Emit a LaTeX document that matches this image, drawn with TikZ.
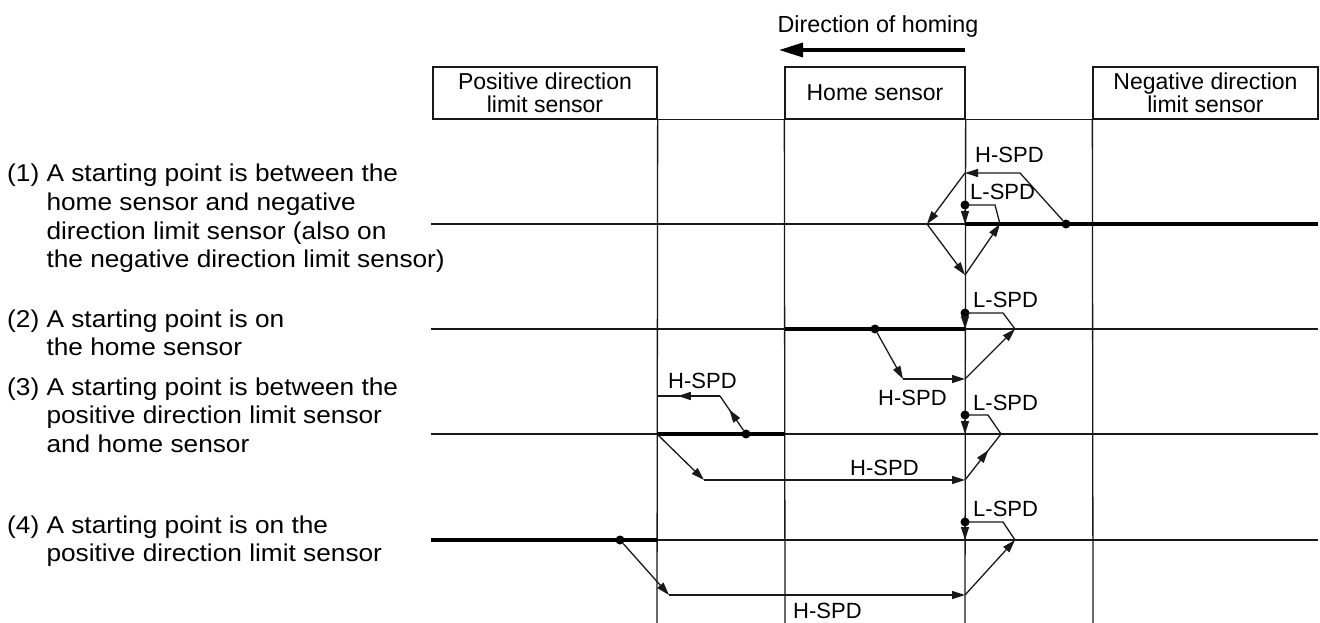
\documentclass[tikz,border=0pt]{standalone}
\usepackage{fontspec}
\setmainfont{Liberation Sans}
\newfontfamily\wideface[FakeStretch=1.08]{Liberation Sans}
\usetikzlibrary{arrows.meta,decorations.markings}
\tikzset{
  ln/.style={line width=1.3pt, draw=black!90},
  thk/.style={line width=4pt, draw=black},
  tip/.style={-{Triangle[length=13pt,width=8pt]}},
  midtip/.style={postaction={decorate}, decoration={markings, mark=at position #1 with {\arrow{Triangle[length=13pt,width=8pt]}}}},
  midtip/.default=0.5,
  dot/.style={circle, fill=black, inner sep=0pt, minimum size=9pt},
  lbl/.style={font=\fontsize{22}{26}\selectfont, inner sep=0pt, anchor=base west},
  sensor/.style={draw=black!90, line width=1.3pt, font=\fontsize{23}{23.5}\selectfont, align=center, inner sep=0pt},
  desc/.style={font=\wideface\fontsize{24.3}{28.6}\selectfont, inner sep=0pt, anchor=base west},
}
\begin{document}
\begin{tikzpicture}[x=1pt,y=-1pt]
\fill[white] (0,0) rectangle (1320,623);
\useasboundingbox (0,0) rectangle (1320,623);

% direction of homing
\node[font=\fontsize{23.3}{23.5}\selectfont, inner sep=0pt, anchor=base] (dir) at (878,33) {Direction of homing};
\coordinate (ds) at (965,50);
\coordinate (de) at (779,50);
\draw[line width=3.3pt, draw=black, -{Triangle[length=24pt,width=14pt]}] (ds) -- (de);

% sensor boxes
\node[sensor, minimum width=224pt, minimum height=52pt] (pos) at (545,93) {Positive direction\\limit sensor};
\node[sensor, minimum width=180pt, minimum height=52pt] (home) at (875,93) {Home sensor};
\node[sensor, minimum width=225pt, minimum height=52pt] (neg) at (1205.5,93) {Negative direction\\limit sensor};
\draw[ln] (pos.south east) -- (home.south west);
\draw[ln] (home.south east) -- (neg.south west);

% vertical lines
\coordinate (v1) at (657,623);
\coordinate (v2) at (785,623);
\coordinate (v3) at (965,623);
\coordinate (v4) at (1093,623);
\draw[ln] (pos.south east) -- (v1);
\draw[ln] (home.south west) -- (v2);
\draw[ln] (home.south east) -- (v3);
\draw[ln] (neg.south west) -- (v4);

% row lines
\foreach \y/\n in {224/1,329/2,434/3,540/4}{
  \coordinate (rl\n) at (431,\y);
  \coordinate (rr\n) at (1318,\y);
  \draw[ln] (rl\n) -- (rr\n);
}
% thick segments
\coordinate (t1a) at (965,224); \coordinate (t1b) at (1318,224);
\coordinate (t2a) at (785,329); \coordinate (t2b) at (965,329);
\coordinate (t3a) at (657,434); \coordinate (t3b) at (785,434);
\coordinate (t4a) at (431,540); \coordinate (t4b) at (657,540);
\draw[thk] (t1a) -- (t1b);
\draw[thk] (t2a) -- (t2b);
\draw[thk] (t3a) -- (t3b);
\draw[thk] (t4a) -- (t4b);

% descriptions
\node[desc] (t1) at (7,182) {(1) \begin{tabular}[t]{@{}l@{}}A starting point is between the\\home sensor and negative\\direction limit sensor (also on\\the negative direction limit sensor)\end{tabular}};
\node[desc] (t2) at (7,327) {(2) \begin{tabular}[t]{@{}l@{}}A starting point is on\\the home sensor\end{tabular}};
\node[desc] (t3) at (7,395) {(3) \begin{tabular}[t]{@{}l@{}}A starting point is between the\\positive direction limit sensor\\and home sensor\end{tabular}};
\node[desc] (t4) at (7,533) {(4) \begin{tabular}[t]{@{}l@{}}A starting point is on the\\positive direction limit sensor\end{tabular}};

% row 1
\node[dot] (d1) at (1066,224) {};
\coordinate (a1) at (1020,173);
\coordinate (b1) at (965,173);
\coordinate (c1) at (927,224);
\coordinate (e1) at (965,275);
\coordinate (f1) at (1000,224);
\node[dot] (l1) at (965,205) {};
\coordinate (g1) at (995,205);
\coordinate (h1) at (965,224);
\draw[ln, tip] (d1) -- (a1) -- (b1);
\draw[ln, tip] (b1) -- (c1);
\draw[ln, tip] (c1) -- (e1);
\draw[ln, tip] (e1) -- (f1);
\draw[ln] (l1.center) -- (g1) -- (f1);
\draw[ln, tip] (l1) -- (h1);
\node[lbl] (hs1) at (975,163) {H-SPD};
\node[lbl] (ls1) at (970,200) {L-SPD};

% row 2
\node[dot] (d2) at (875,329) {};
\coordinate (a2) at (903,379);
\coordinate (b2) at (965,379);
\coordinate (c2) at (1015,329);
\node[dot] (l2) at (965,313) {};
\coordinate (g2) at (1003,313);
\coordinate (h2) at (965,329);
\draw[ln, tip] (d2) -- (a2);
\draw[ln, tip] (a2) -- (b2);
\draw[ln, tip] (b2) -- (c2);
\draw[ln] (l2.center) -- (g2) -- (c2);
\draw[ln, tip] (l2) -- (h2);
\node[lbl] (ls2) at (973,307) {L-SPD};
\node[lbl] (hs2) at (878,405) {H-SPD};

% row 3
\node[dot] (d3) at (746,434) {};
\coordinate (a3) at (720,396);
\coordinate (b3) at (657,396);
\draw[ln, midtip=0.6] (d3) -- (a3);
\draw[ln, midtip=0.67] (a3) -- (b3);
\coordinate (c3) at (657,434);
\coordinate (e3) at (704,480);
\coordinate (f3) at (965,480);
\coordinate (g3) at (1001,434);
\node[dot] (l3) at (965,415) {};
\coordinate (k3) at (988,415);
\coordinate (h3) at (965,434);
\draw[ln, tip] (c3) -- (e3);
\draw[ln, tip] (e3) -- (f3);
\draw[ln, midtip=0.65] (f3) -- (g3);
\draw[ln] (l3.center) -- (k3) -- (g3);
\draw[ln, tip] (l3) -- (h3);
\node[lbl] (hs3a) at (668,388) {H-SPD};
\node[lbl] (ls3) at (973,410) {L-SPD};
\node[lbl] (hs3b) at (850,475) {H-SPD};

% row 4
\node[dot] (d4) at (620,540) {};
\coordinate (a4) at (669,595);
\coordinate (b4) at (965,595);
\coordinate (c4) at (1015,540);
\node[dot] (l4) at (965,522) {};
\coordinate (g4) at (1003,522);
\coordinate (h4) at (965,540);
\draw[ln, tip] (d4) -- (a4);
\draw[ln, tip] (a4) -- (b4);
\draw[ln, tip] (b4) -- (c4);
\draw[ln] (l4.center) -- (g4) -- (c4);
\draw[ln, tip] (l4) -- (h4);
\node[lbl] (ls4) at (973,516) {L-SPD};
\node[lbl] (hs4) at (793,618) {H-SPD};
\end{tikzpicture}
\end{document}
